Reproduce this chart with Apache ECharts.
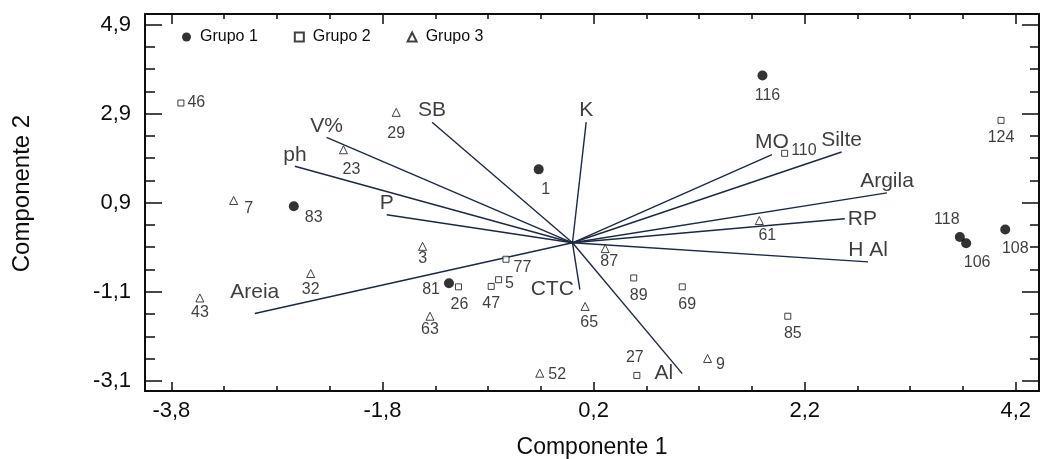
<!DOCTYPE html>
<html><head><meta charset="utf-8">
<script src="https://cdn.jsdelivr.net/npm/echarts@6/dist/echarts.min.js"></script>
<style>html,body{margin:0;padding:0;background:#fff}#c{width:1040px;height:459px}</style>
</head><body><div id="c"></div>
<script>
// ---- data ----
const g1Ids = ['116','1','83','81','118','106','108'];
const g1X = [1.80,-0.32,-2.64,-1.17,3.67,3.73,4.10];
const g1Y = [3.76,1.65,0.82,-0.91,0.13,-0.01,0.30];

const g2Ids = ['46','124','110','77','26','47','5','89','69','85','27'];
const g2X = [-3.71,4.06,2.01,-0.63,-1.08,-0.77,-0.70,0.58,1.04,2.04,0.61];
const g2Y = [3.14,2.75,2.01,-0.37,-0.99,-0.98,-0.83,-0.79,-0.99,-1.65,-2.98];

const g3Ids = ['29','23','7','3','32','43','63','87','65','61','9','52'];
const g3X = [-1.67,-2.17,-3.21,-1.42,-2.48,-3.53,-1.35,0.31,0.12,1.77,1.28,-0.31];
const g3Y = [2.93,2.09,0.95,-0.08,-0.69,-1.24,-1.65,-0.13,-1.43,0.50,-2.60,-2.93];

const varNames = ['SB','V%','ph','P','Areia','K','MO','Silte','Argila','RP','H Al','CTC','Al'];
const varX = [-1.33,-2.33,-2.63,-1.76,-3.01,0.13,1.89,2.55,2.98,2.58,2.80,0.07,1.04];
const varY = [2.71,2.37,1.72,0.63,-1.59,2.71,1.98,2.04,1.12,0.54,-0.43,-1.05,-2.94];

const groupNames = ['Grupo 1','Grupo 2','Grupo 3'];
const xMajor = [-3.8,-1.8,0.2,2.2,4.2];
const yMajor = [-3.1,-1.1,0.9,2.9,4.9];
const xMinor = [-3.8,-3.3,-2.8,-2.3,-1.8,-1.3,-0.8,-0.3,0.2,0.7,1.2,1.7,2.2,2.7,3.2,3.7,4.2];
const yMinor = [-3.1,-2.6,-2.1,-1.6,-1.1,-0.6,-0.1,0.4,0.9,1.4,1.9,2.4,2.9,3.4,3.9,4.4,4.9];

// ---- label placement (style) ----
const ptLabel = {
  '116':['bottom',[5,3]], '1':['bottom',[7,3]], '83':['right',[2,11]], '81':['left',[0,6]],
  '118':['top',[-13,0]], '106':['bottom',[11,2]], '108':['bottom',[10,2]],
  '46':['right',[-1,0]], '124':['bottom',[0,2]], '110':['right',[-1,-3]], '77':['right',[0,8]],
  '26':['bottom',[1,2]], '47':['bottom',[0,2]], '5':['right',[-1,4]], '89':['bottom',[5,2]],
  '69':['bottom',[5,2]], '85':['bottom',[5,2]], '27':['top',[-2,-2]],
  '29':['bottom',[0,5]], '23':['bottom',[8,3]], '7':['right',[2,8]], '3':['bottom',[0,-4]],
  '32':['bottom',[0,0]], '43':['bottom',[0,-2]], '63':['bottom',[0,-3]], '87':['bottom',[4,-3]],
  '65':['bottom',[4,0]], '61':['bottom',[8,-1]], '9':['right',[0,6]], '52':['right',[0,1]]
};
const vecLabel = {
  'SB':['top',1], 'V%':['top',1], 'ph':['top',0], 'P':['top',1], 'Areia':['top',11],
  'K':['top',1], 'MO':['top',2], 'Silte':['top',1], 'Argila':['top',1], 'RP':['right',3],
  'H Al':['top',1], 'CTC':['left',6], 'Al':['left',9]
};

const FONT = '"Liberation Sans", Arial, Helvetica, sans-serif';
const INK = '#0d0d0d';
const LINE = '#1c2943';
const XMIN=-4.05, XMAX=4.42, YMIN=-3.33, YMAX=5.14;
const fmt = v => String(Math.round(v*10)/10).replace('.', ',');

function axis(kind, pos, ticks, len, line, labels){
  const a = {
    type:'value', position:pos,
    min: kind==='x'?XMIN:YMIN, max: kind==='x'?XMAX:YMAX,
    splitLine:{show:false},
    axisLine:{show:line, onZero:false, lineStyle:{color:INK, width:2}},
    axisTick:{show:true, inside:true, length:len, customValues:ticks, lineStyle:{color:INK, width:1.5}},
    axisLabel:{show:false}
  };
  if (labels){
    a.axisLabel = {show:true, customValues:labels, formatter:fmt, fontSize:22, fontFamily:FONT, color:INK, margin: kind==='x'?9:14};
  }
  return a;
}

const xAxes = [
  axis('x','bottom',xMajor,9,true,xMajor),
  axis('x','bottom',xMinor,5,false,null),
  axis('x','top',xMajor,10,true,null),
  axis('x','top',xMinor,5,false,null)
];
xAxes[0].name = 'Componente 1';
xAxes[0].nameLocation = 'middle';
xAxes[0].nameGap = 45;
xAxes[0].nameTextStyle = {fontSize:23, fontFamily:FONT, color:INK};

const yAxes = [
  axis('y','left',yMajor,17,true,yMajor),
  axis('y','left',yMinor,10,false,null),
  axis('y','right',yMajor,17,true,null),
  axis('y','right',yMinor,9,false,null)
];
yAxes[0].name = 'Componente 2';
yAxes[0].nameLocation = 'middle';
yAxes[0].nameGap = 111;
yAxes[0].nameRotate = 90;
yAxes[0].nameTextStyle = {fontSize:24, fontFamily:FONT, color:INK, padding:[0,0,0,18]};

function pts(ids, xs, ys){
  return ids.map((id,i)=>{
    const s = ptLabel[id] || ['bottom',[0,0]];
    return {value:[xs[i], ys[i]], name:id,
      label:{show:true, position:s[0], offset:s[1], distance:4, formatter:id,
             fontSize:16, fontFamily:FONT, color:INK}};
  });
}

const series = [];
varNames.forEach((n,i)=>{
  series.push({type:'line', silent:true, symbol:'none', animation:false,
    lineStyle:{color:LINE, width:1.4}, z:2,
    data:[[0,0],[varX[i],varY[i]]]});
});
series.push({type:'scatter', silent:true, animation:false, symbolSize:0.1,
  itemStyle:{color:'rgba(0,0,0,0)'}, z:3,
  data: varNames.map((n,i)=>({value:[varX[i],varY[i]],
    label:{show:true, position:vecLabel[n][0], distance:vecLabel[n][1], formatter:n,
           fontSize:21, fontFamily:FONT, color:INK}}))});

series.push({type:'scatter', name:groupNames[0], symbol:'circle', symbolSize:10, animation:false, z:5,
  itemStyle:{color:'#000'}, data:pts(g1Ids,g1X,g1Y)});
series.push({type:'scatter', name:groupNames[1], symbol:'rect', symbolSize:6, animation:false, z:5,
  itemStyle:{color:'#fff', borderColor:'#111', borderWidth:1}, data:pts(g2Ids,g2X,g2Y)});
series.push({type:'scatter', name:groupNames[2], symbol:'triangle', symbolSize:8, animation:false, z:5,
  itemStyle:{color:'#fff', borderColor:'#111', borderWidth:1}, data:pts(g3Ids,g3X,g3Y)});

const chart = echarts.init(document.getElementById('c'), null, {renderer:'canvas'});
chart.setOption({
  animation:false,
  backgroundColor:'#fff',
  grid:{left:145, right:1, top:14, bottom:68, containLabel:false, outerBoundsMode:'none'},
  legend:{data:groupNames, left:177, top:24, itemGap:36, itemWidth:9, itemHeight:9,
    selectedMode:false,
    textStyle:{fontSize:16, fontFamily:FONT, color:INK, padding:[0,0,0,4]}},
  xAxis:xAxes, yAxis:yAxes,
  series:series
});
</script>
</body></html>
